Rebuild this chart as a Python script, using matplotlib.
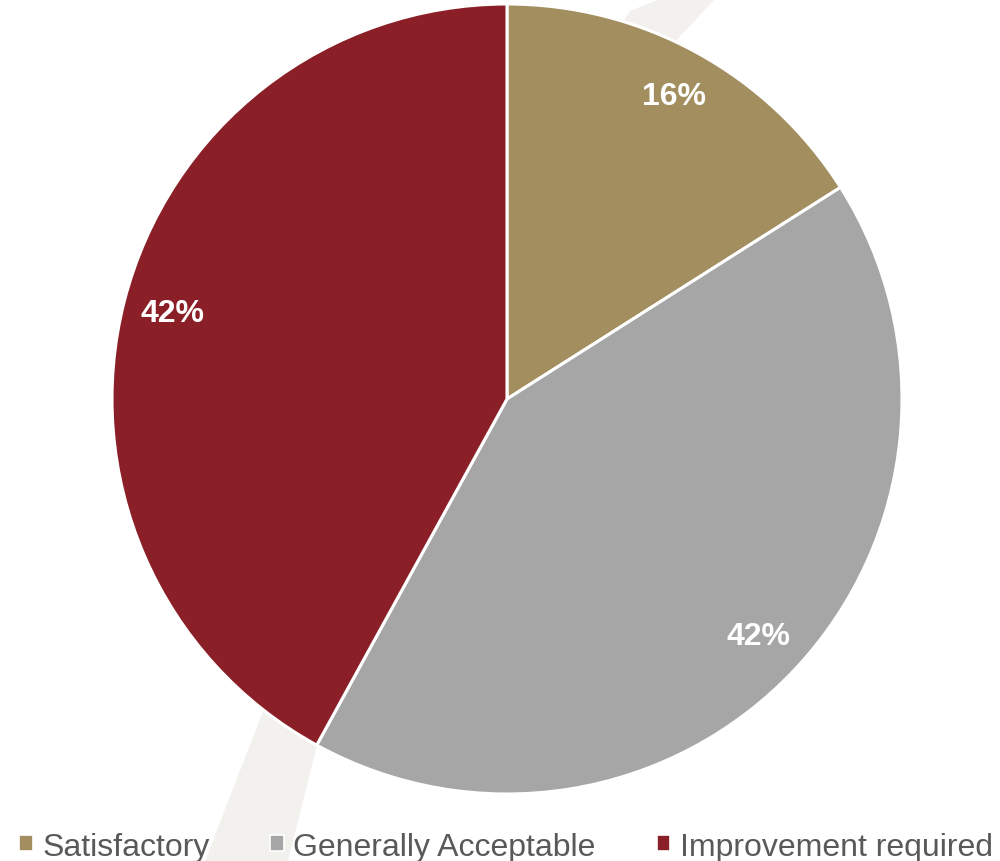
import matplotlib
matplotlib.use("Agg")
from matplotlib import pyplot as plt
from matplotlib.patches import Polygon

plt.rcParams['font.family'] = ['Liberation Sans', 'DejaVu Sans']

# survey result shares
categories = ["Satisfactory", "Generally Acceptable", "Improvement required"]
shares = [16, 42, 42]
colours = ["#A38E5F", "#A6A6A6", "#8B1F27"]

W, H = 1000, 862
fig = plt.figure(figsize=(W / 100, H / 100), dpi=100)

# faint beige swoosh behind everything
bg = fig.add_axes([0, 0, 1, 1])
bg.set_xlim(0, W)
bg.set_ylim(H, 0)
bg.axis("off")
band = [(205, 862), (262, 715), (330, 540), (430, 330), (540, 150), (630, 12), (660, 0),
        (715, 0), (640, 80), (520, 270), (420, 470), (345, 650), (316, 750), (288, 862)]
bg.add_patch(Polygon(band, closed=True, color="#F2F1ED", lw=0))

# pie centred at (507, 400) px with radius 395 px
cx, cy, r = 507, 400, 395
ax = fig.add_axes([(cx - r) / W, (H - cy - r) / H, 2 * r / W, 2 * r / H])
wedges, texts, autotexts = ax.pie(
    shares, colors=colours, startangle=90, counterclock=False,
    autopct=lambda p: "%d%%" % round(p), pctdistance=0.875,
    wedgeprops=dict(edgecolor="white", linewidth=2.2),
    textprops=dict(color="white", fontsize=23, fontweight="bold"))
ax.set_xlim(-1, 1)
ax.set_ylim(-1, 1)
ax.set_aspect("equal")
for w in wedges:
    w.set_clip_on(False)

leg = fig.legend(wedges, categories, loc="lower center", bbox_to_anchor=(0.506, -0.034),
                 ncol=3, frameon=False, fontsize=23, labelcolor="#595959",
                 handlelength=0.42, handleheight=0.42, handletextpad=0.3,
                 columnspacing=1.9)
for h in leg.legend_handles:
    h.set_linewidth(1.2)

fig.savefig("out.png", dpi=100, facecolor="white")
